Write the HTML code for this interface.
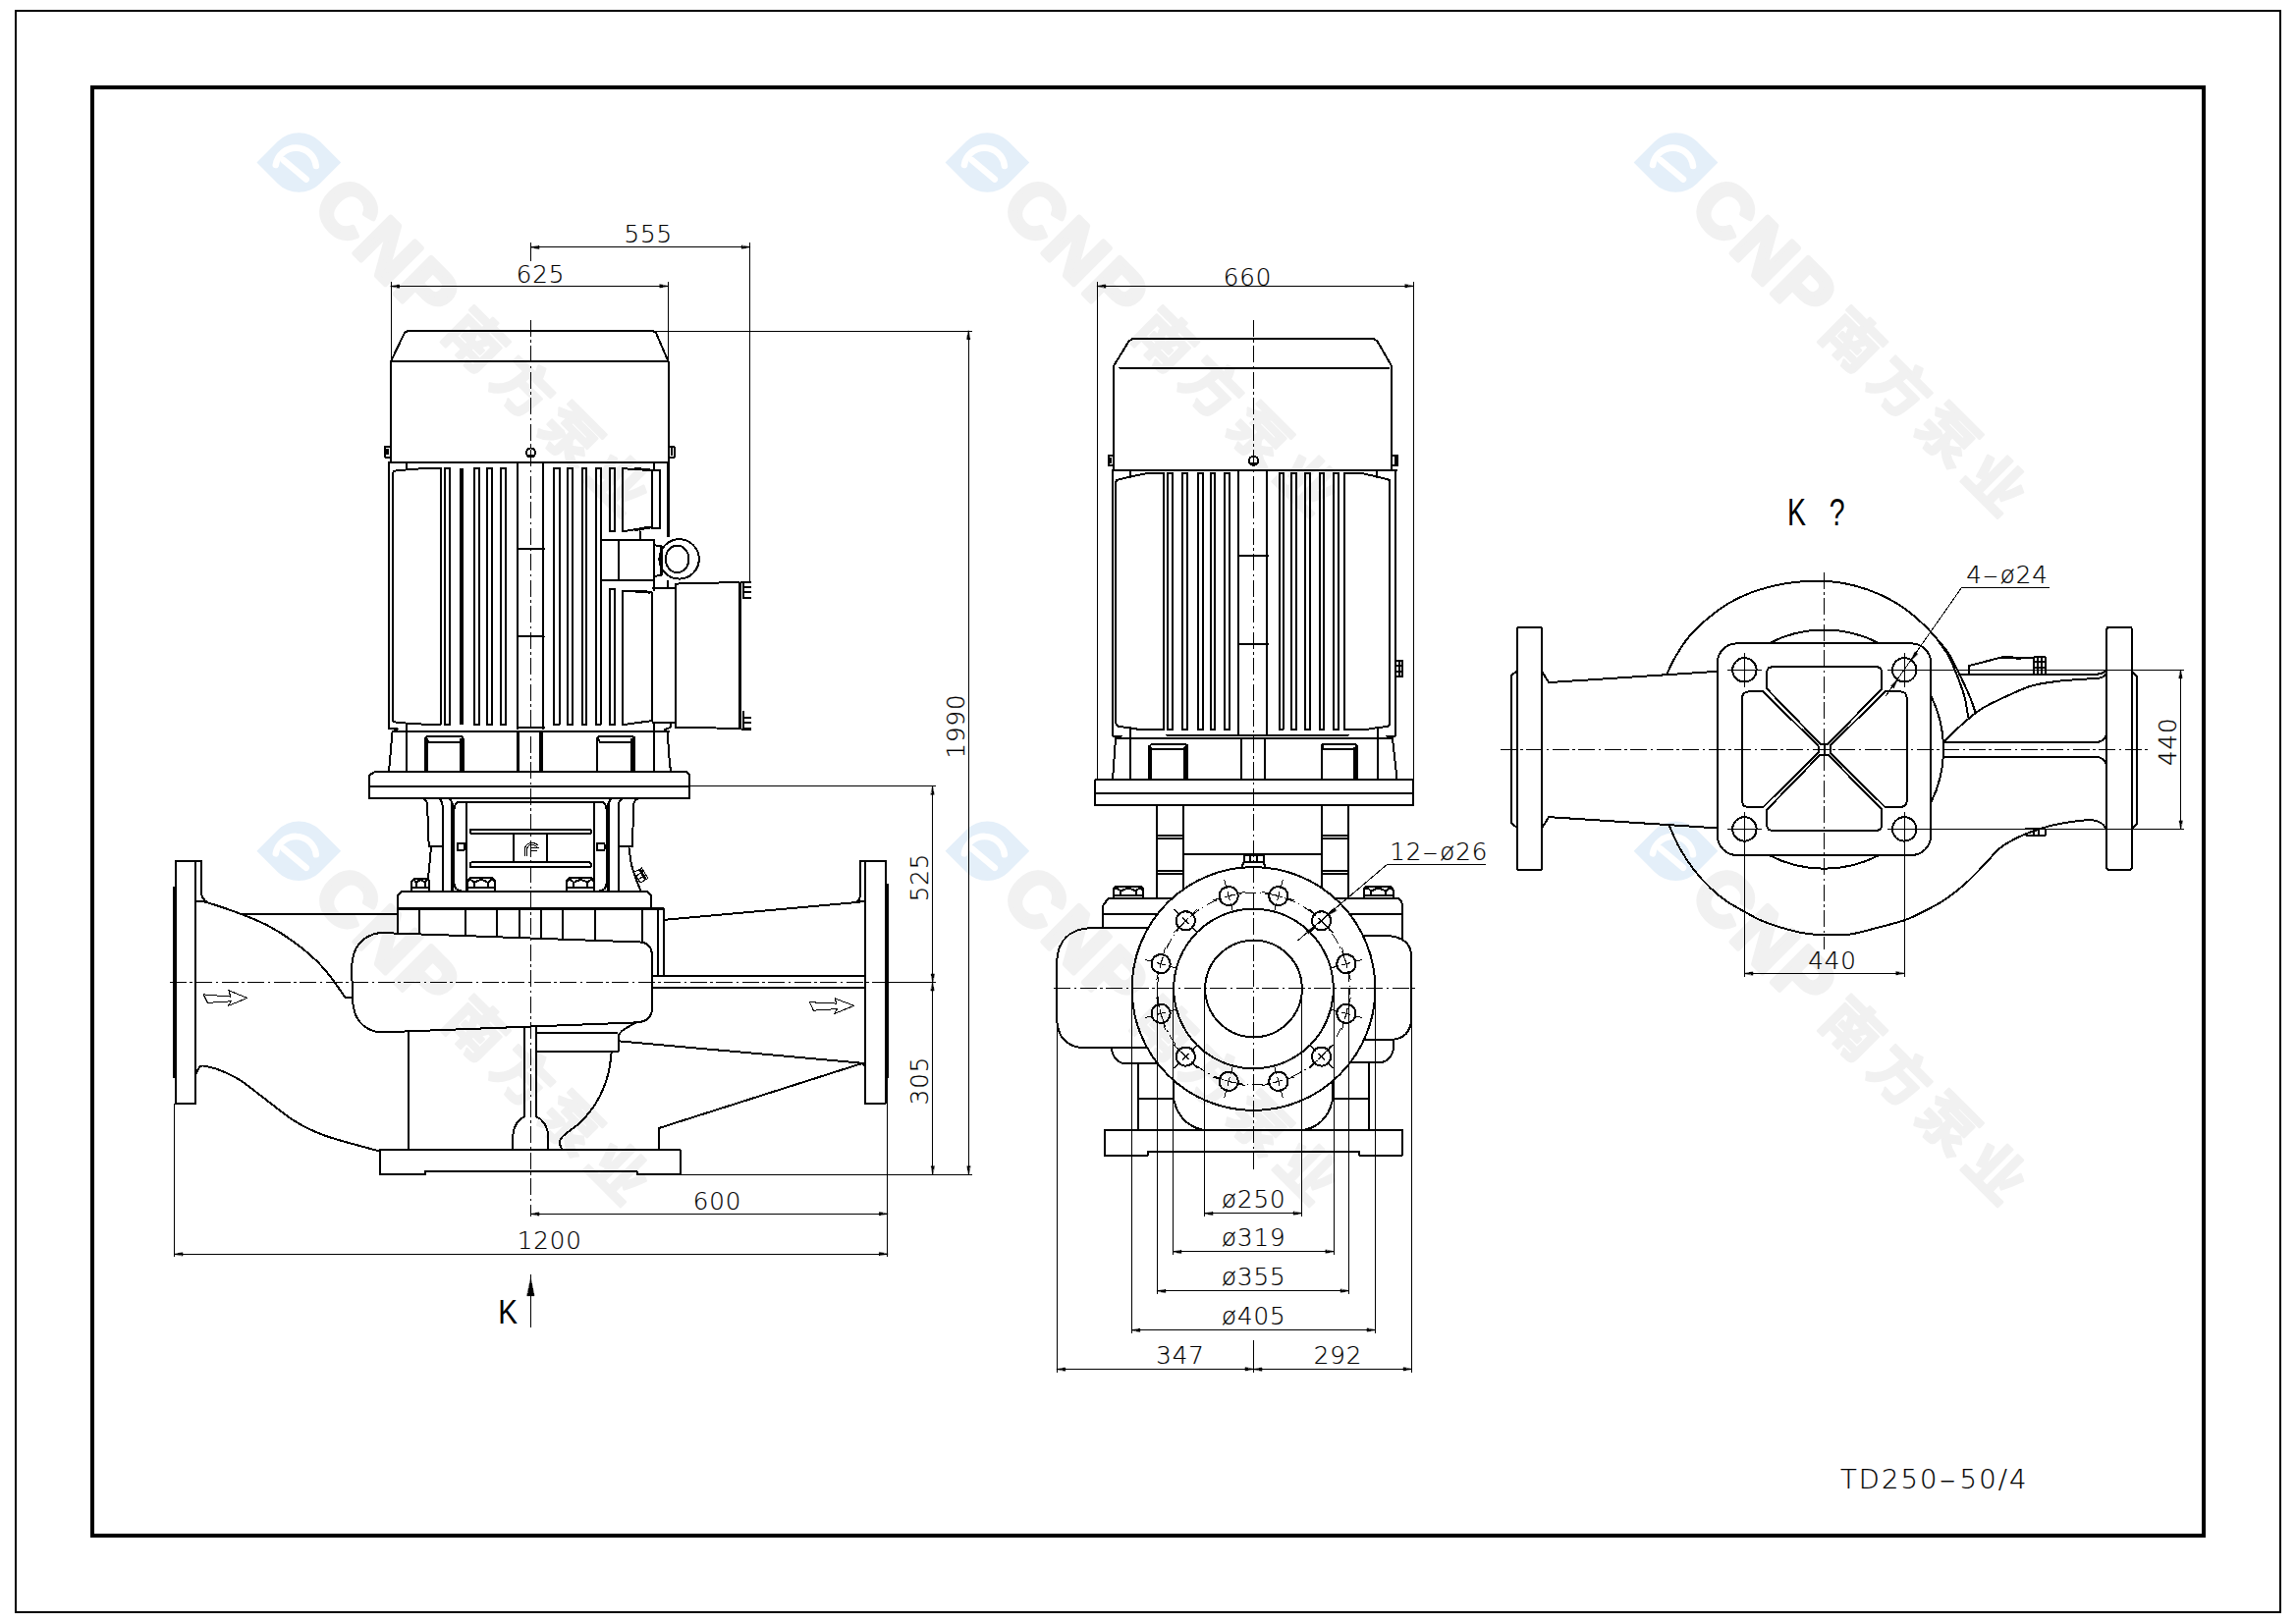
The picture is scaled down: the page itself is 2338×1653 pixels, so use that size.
<!DOCTYPE html>
<html lang="zh"><head><meta charset="utf-8"><title>TD250-50/4</title>
<style>
html,body{margin:0;padding:0;background:#fff}
body{width:2338px;height:1653px;overflow:hidden}
svg{display:block}
path,rect,circle,ellipse{shape-rendering:crispEdges;fill:none;stroke:#000;stroke-linecap:round;stroke-linejoin:round}
.o{stroke-width:2}
.k{stroke-width:3.6;stroke-linecap:butt}
.k2{stroke-width:2.9;stroke-linecap:butt}
.t{stroke-width:1}
.c{stroke-width:1;stroke-dasharray:17 3.5 2.5 3.5;stroke-linecap:butt}
.c2{stroke-width:1;stroke-dasharray:11 4 1.5 4;stroke-linecap:butt}
.cm{stroke-dasharray:9 3.5 9 3.5 9;stroke-linecap:butt}
.a{fill:#000;stroke:#000;stroke-width:.6}
.wl{fill:#e4eff9;stroke:none;shape-rendering:auto}
.ww path{shape-rendering:auto;stroke:#fff;stroke-width:6.6;fill:none}
.f1{stroke-width:2;stroke-linejoin:miter}
.f2{stroke-width:4;stroke-linejoin:miter}
text{font-family:"DejaVu Sans Light","DejaVu Sans","Liberation Sans",sans-serif;font-weight:200;fill:#000}
.d{font-size:24.5px;letter-spacing:.9px;stroke:#000;stroke-width:.2px}
.tt{font-size:27.4px;letter-spacing:2.1px;stroke:#000;stroke-width:.2px}
.kk{font-family:"Liberation Sans","DejaVu Sans",sans-serif;font-weight:400;font-size:38px}
.w1{font-family:"Liberation Sans",sans-serif;font-weight:700;font-size:76px;letter-spacing:3.5px;fill:#f1f1f1;stroke:#f1f1f1;stroke-width:5px;stroke-linejoin:round}
.w2{font-family:"Liberation Sans","Noto Sans CJK SC","WenQuanYi Zen Hei",sans-serif;font-weight:700;font-size:59px;letter-spacing:9.6px;fill:#f1f1f1;stroke:#f1f1f1;stroke-width:2.5px;stroke-linejoin:round}
</style></head>
<body>
<svg width="2338" height="1653" viewBox="0 0 2338 1653">
<g transform="translate(304.3 165.5) rotate(45)"><path class="wl" d="M0 -30.3H30.3V0A30.3 30.3 0 0 1 0 30.3H-30.3V0A30.3 30.3 0 0 1 0 -30.3Z"/><g transform="rotate(-45)" class="ww"><path d="M-23.5 2.5A20.7 20.7 0 0 1 17.5 3.5"/><path d="M-15.5 -2.3L7.4 17"/></g><text class="w1" x="42" y="25.5">CNP</text><text class="w2" x="226" y="22">南方泵业</text></g>
<g transform="translate(1005.4 165.5) rotate(45)"><path class="wl" d="M0 -30.3H30.3V0A30.3 30.3 0 0 1 0 30.3H-30.3V0A30.3 30.3 0 0 1 0 -30.3Z"/><g transform="rotate(-45)" class="ww"><path d="M-23.5 2.5A20.7 20.7 0 0 1 17.5 3.5"/><path d="M-15.5 -2.3L7.4 17"/></g><text class="w1" x="42" y="25.5">CNP</text><text class="w2" x="226" y="22">南方泵业</text></g>
<g transform="translate(1706.5 165.5) rotate(45)"><path class="wl" d="M0 -30.3H30.3V0A30.3 30.3 0 0 1 0 30.3H-30.3V0A30.3 30.3 0 0 1 0 -30.3Z"/><g transform="rotate(-45)" class="ww"><path d="M-23.5 2.5A20.7 20.7 0 0 1 17.5 3.5"/><path d="M-15.5 -2.3L7.4 17"/></g><text class="w1" x="42" y="25.5">CNP</text><text class="w2" x="226" y="22">南方泵业</text></g>
<g transform="translate(304.3 866.8) rotate(45)"><path class="wl" d="M0 -30.3H30.3V0A30.3 30.3 0 0 1 0 30.3H-30.3V0A30.3 30.3 0 0 1 0 -30.3Z"/><g transform="rotate(-45)" class="ww"><path d="M-23.5 2.5A20.7 20.7 0 0 1 17.5 3.5"/><path d="M-15.5 -2.3L7.4 17"/></g><text class="w1" x="42" y="25.5">CNP</text><text class="w2" x="226" y="22">南方泵业</text></g>
<g transform="translate(1005.4 866.8) rotate(45)"><path class="wl" d="M0 -30.3H30.3V0A30.3 30.3 0 0 1 0 30.3H-30.3V0A30.3 30.3 0 0 1 0 -30.3Z"/><g transform="rotate(-45)" class="ww"><path d="M-23.5 2.5A20.7 20.7 0 0 1 17.5 3.5"/><path d="M-15.5 -2.3L7.4 17"/></g><text class="w1" x="42" y="25.5">CNP</text><text class="w2" x="226" y="22">南方泵业</text></g>
<g transform="translate(1706.5 866.8) rotate(45)"><path class="wl" d="M0 -30.3H30.3V0A30.3 30.3 0 0 1 0 30.3H-30.3V0A30.3 30.3 0 0 1 0 -30.3Z"/><g transform="rotate(-45)" class="ww"><path d="M-23.5 2.5A20.7 20.7 0 0 1 17.5 3.5"/><path d="M-15.5 -2.3L7.4 17"/></g><text class="w1" x="42" y="25.5">CNP</text><text class="w2" x="226" y="22">南方泵业</text></g>
<rect class="f1" x="16" y="11" width="2306" height="1631"/>
<rect class="f2" x="94" y="89" width="2150" height="1475"/>
<path class="o" d="M398 470.8L398 368L412 339L415 337L665 337L668 339L680.5 368L680.5 470.8"/>
<path class="o" d="M398 367.8L680.5 367.8"/>
<rect class="o" x="392" y="455" width="6" height="10.5"/>
<rect class="o" x="680.5" y="455" width="6" height="10.5"/>
<path class="k" d="M394.3 457L394.3 463"/>
<path class="o" d="M684 457L684 463"/>
<circle class="o" cx="540.5" cy="461" r="4.6"/>
<path class="o" d="M538 463.5L543 463.5"/>
<path class="o" d="M396 470.8L681 470.8"/>
<path class="o" d="M396 470.8L396 742.4"/>
<path class="k2" d="M680.5 470.8L680.5 547"/>
<path class="o" d="M680 592L680 599"/>
<path class="o" d="M396 742.4L404.8 742.4L402.5 743.8L399.6 745"/>
<path class="o" d="M413.8 471V478M448.6 476.5V738.2M448.6 476.5H440L413.8 478.4L403 479.5Q399.6 480 399.6 484V731Q399.6 735 403 735.6L413.8 736.6L440 738.2H448.6M413.8 736.6V785"/>
<path class="o" d="M452.8 738.2V476.6H457.8V738.2Z"/>
<path class="o" d="M483.4 738.2V476.6H488.3V738.2Z"/>
<path class="o" d="M495.6 738.2V476.6H500.7V738.2Z"/>
<path class="o" d="M509.6 738.2V476.6H515V738.2Z"/>
<path class="k" d="M470.1 476.6L470.1 738.2"/>
<path class="o" d="M526.8 470.8L526.8 742"/>
<path class="o" d="M553 470.8L553 742"/>
<path class="o" d="M526.8 559L554 559"/>
<path class="o" d="M526.8 648.4L554 648.4"/>
<path class="o" d="M563.8 738.2V476.6H569.6V738.2Z"/>
<path class="o" d="M577.6 738.2V476.6H583V738.2Z"/>
<path class="o" d="M592.6 738.2V476.6H597V738.2Z"/>
<path class="o" d="M606.6 738.2V476.6H611.6V738.2Z"/>
<path class="o" d="M620.8 541.3V476.6H626V541.3Z"/>
<path class="o" d="M620.8 738.2V599.5H626V738.2Z"/>
<path class="o" d="M633.9 477.2L664.4 479.2L664.4 536.4L633.9 541.3Z"/>
<path class="k2" d="M646 477.4L662 478.6"/>
<path class="k2" d="M646 539.8L662 537"/>
<path class="o" d="M664.4 479.2L671.8 479.2L671.8 538.4L664.4 538.4"/>
<path class="o" d="M665.9 471L665.9 478.5"/>
<path class="o" d="M651.6 541L651.6 549.7"/>
<rect class="o" x="611.7" y="549.7" width="54.2" height="41.4"/>
<path class="o" d="M629.9 549.7L629.9 591.1"/>
<path class="o" d="M665.9 555.1L673.8 556.5L673.8 585.5L665.9 587.2"/>
<path class="k2" d="M673.8 556.5L673.8 585.5"/>
<circle class="o" cx="691.6" cy="569.4" r="20.2"/>
<ellipse class="o" cx="689.6" cy="569.4" rx="11.8" ry="13.8"/>
<path class="o" d="M665.9 591.1L665.9 601"/>
<path class="o" d="M633.9 601.5L664.4 603.5L664.4 734L633.9 738.2Z"/>
<path class="k2" d="M646 602L662 603.2"/>
<path class="o" d="M664.4 599L687.6 599"/>
<path class="o" d="M664.4 736L687.6 736"/>
<path class="o" d="M687.6 594.6L752.6 593L752.6 742L687.6 740.6Z"/>
<path class="k2" d="M753.6 592.5L753.6 742.5"/>
<path class="o" d="M754.6 592.5H764.5M754.6 742.5H764.5M757 593V609H764.5M757 725V742H764.5M757 598H764M757 603H764M757 731H764M757 736H764"/>
<path class="o" d="M399.6 745L681.5 745"/>
<path class="o" d="M526.8 741.2L553.8 741.2"/>
<path class="o" d="M666.1 736.3L666.1 785"/>
<path class="o" d="M682.9 736.3L682.9 740.7L676.8 743.3L676.8 745"/>
<path class="o" d="M399.6 745L396.1 785"/>
<path class="o" d="M680.2 745L680.7 765L682.9 785"/>
<path class="o" d="M433.3 785V751.6L435.3 749.6H469.5L471.5 751.6V785M435.8 755.9H468.3M433.5 751L436.5 755.9M471.3 751L468.3 755.9"/>
<path class="k2" d="M434.5 752L434.5 785"/>
<path class="k" d="M469.9 752L469.9 785"/>
<path class="o" d="M608.4 785V751.6L610.4 749.6H643.8L645.8 751.6V785M610.4 755.9H642.3M608.6 751L611 755.9M645.6 751L642.3 755.9"/>
<path class="k" d="M644.1 752L644.1 785"/>
<path class="k2" d="M527.5 745L527.5 785"/>
<path class="k" d="M551.1 745L551.1 785"/>
<path class="o" d="M376 813V789.5L382 786H699L702 788.5V813Z"/>
<path class="o" d="M376 800.9L702 800.9"/>
<path class="o" d="M430 813Q434.5 814 435.1 820L436.7 862H450.5M439 863L436 894.5"/>
<path class="o" d="M445.5 813Q450 814 450.5 820V907.3"/>
<path class="o" d="M456.5 813Q460 814 460.4 820"/>
<path class="k2" d="M460.4 818L460.4 907.3"/>
<path class="o" d="M474.5 817L474.5 907.3"/>
<path class="o" d="M651 813Q646 814 645.1 820L644 862H629.9M640.5 864L642.5 878L644.1 885.1L648 896L652.1 906.7"/>
<path class="o" d="M635.5 813Q630.5 814 629.9 820V907.3"/>
<path class="o" d="M624.5 813Q620 814 619.6 820"/>
<path class="k2" d="M619.6 818L619.6 907.3"/>
<path class="o" d="M604.7 817L604.7 907.3"/>
<path class="o" d="M469.5 816.6H610.5Q617.6 816.6 617.6 824.6V899Q617.6 907 610.5 907M469.5 907Q462.4 907 462.4 899V824.6Q462.4 816.6 469.5 816.6"/>
<path class="o" d="M478.5 845.5L480 844.6H600.2L601.7 845.5V848.3L600.2 849.2H480L478.5 848.3Z"/>
<path class="o" d="M478.5 879.3L480 878.4H600.2L601.7 879.3V882.4L600.2 883.3H480L478.5 882.4Z"/>
<path class="o" d="M522.8 849.2L522.8 878.4"/>
<path class="o" d="M556.7 849.2L556.7 878.4"/>
<rect class="o" x="465.6" y="858.6" width="7.3" height="7.3" rx="1"/>
<rect class="o" x="607.6" y="858.6" width="7.9" height="7.3" rx="1"/>
<path class="t" d="M534.5 871.5V866Q534.5 858.6 541.5 858.6Q546 858.6 548 861M536.5 871.5V866.5Q536.5 860.6 541.5 860.6Q545 860.6 546.5 862.3M540.3 873V863.5H548.3M540.3 866.6H546.5"/>
<path class="o" d="M419.4 907.3V897.1L421.9 894.6H434.9L437.4 897.1V907.3"/>
<path class="o" d="M419.4 904L437.4 904"/>
<path class="o" d="M423.9 899.1V904M432.9 899.1V904"/>
<path class="o" d="M419.4 898.1Q421.6 894.1 423.9 899.1Q428.4 893.6 432.9 899.1Q435.1 894.1 437.4 898.1"/>
<path class="o" d="M475.9 907.3V896.9L478.4 894.4H501.4L503.9 896.9V907.3"/>
<path class="o" d="M475.9 904L503.9 904"/>
<path class="o" d="M482.9 898.9V904M496.9 898.9V904"/>
<path class="o" d="M475.9 897.9Q479.4 893.9 482.9 898.9Q489.9 893.4 496.9 898.9Q500.4 893.9 503.9 897.9"/>
<path class="o" d="M577.3 907.3V896.9L579.8 894.4H602.8L605.3 896.9V907.3"/>
<path class="o" d="M577.3 904L605.3 904"/>
<path class="o" d="M584.3 898.9V904M598.3 898.9V904"/>
<path class="o" d="M577.3 897.9Q580.8 893.9 584.3 898.9Q591.3 893.4 598.3 898.9Q601.8 893.9 605.3 897.9"/>
<path class="t" d="M645.5 888.5L653.5 884L660 894.5L652 899ZM647.8 892L655.5 887.5M650 895.5L657.5 891"/>
<path class="k2" d="M651.5 885.5L657.5 896"/>
<path class="o" d="M404.8 924.1V912.3L408.8 908.3H659.6L663.2 911.9V924.1"/>
<path class="k" d="M404.5 925.3L675.7 925.3"/>
<path class="o" d="M404.5 926L404.5 950.4"/>
<path class="o" d="M427.2 926L427.2 951.2"/>
<path class="o" d="M474.1 926L474.1 953"/>
<path class="o" d="M506 926L506 954.1"/>
<path class="o" d="M528.7 926L528.7 955"/>
<path class="o" d="M551 926L551 955.8"/>
<path class="o" d="M573.1 926L573.1 956.6"/>
<path class="o" d="M605.6 926L605.6 957.8"/>
<path class="o" d="M654 926L654 959.6"/>
<path class="o" d="M669.7 926V993.7M675.7 926V993.7"/>
<path class="o" d="M386.6 950L652 959.5Q663.8 960.5 663.8 973V1027.5Q663.8 1040.6 647.5 1041.4L386.4 1051.5C368 1048.5 359.6 1036 359 1017.5L358.2 986C358.2 966 368 953 386.6 950Z"/>
<path class="o" d="M675.7 936.9L870.7 919.2Q876.2 917.5 876.2 909V876.8"/>
<path class="o" d="M870.7 919.2L881 917.7"/>
<path class="o" d="M663.8 994.1L881 994.1"/>
<path class="o" d="M663.8 1006.3L881 1006.3"/>
<path class="o" d="M630.7 1060.4L878.6 1082.8"/>
<path class="o" d="M671 1170.9L671 1149L878.6 1082.8"/>
<path class="k2" d="M878.6 1082.8L881 1086"/>
<rect class="o" x="881" y="876.8" width="20.9" height="246.9"/>
<path class="o" d="M876.2 876.8L881 876.8"/>
<path class="k" d="M903.2 900.4L903.2 1097.6"/>
<rect class="o" x="179.2" y="877" width="20.1" height="247"/>
<path class="k" d="M177.7 903L177.7 1098"/>
<path class="o" d="M199.3 877H204.8V908Q205 916 212 919.5"/>
<path class="o" d="M199.3 917.5C201.4 917.8 204.4 917.3 212 919.5C219.6 921.7 234.6 926.9 244.7 930.7C254.8 934.5 263.4 937.9 272.3 942.5C281.2 947.1 289.7 952.4 297.9 958.3C306.1 964.2 315 971.8 321.6 978C328.2 984.2 332.4 989.5 337.3 995.8C342.2 1002 348.8 1012.2 351.1 1015.5"/>
<path class="o" d="M351.1 1015.5L358.8 1015.5"/>
<path class="o" d="M244.7 930.7L404.4 930.7"/>
<path class="o" d="M199.3 1094.4C200.1 1093 202.1 1087.3 204.2 1086C206.3 1084.7 208.5 1085.8 212 1086.5C215.5 1087.2 219.6 1088.1 225 1090.4C230.4 1092.7 237.5 1095.7 244.7 1100.3C251.9 1104.9 259.1 1111.1 268.3 1118C277.5 1124.9 289.4 1135.2 299.9 1141.7C310.4 1148.2 316.9 1151.7 331.4 1156.8C345.8 1161.9 377.4 1169.9 386.6 1172.5"/>
<path class="t" d="M207.2 1012.9L234.8 1015.1L232.8 1008.6L251.6 1016.5L232.4 1024.4L235.2 1019.8L211.5 1021.4Z"/>
<path class="t" d="M824.4 1020.7L852 1022.1L850 1016.8L869.7 1024.3L849.6 1032.5L852.6 1027.6L828.3 1029.2Z"/>
<path class="o" d="M415.8 1050.6L415.8 1170.9"/>
<path class="o" d="M534.1 1046.3V1137Q524 1142 522.3 1156V1170.9M545.9 1046V1137Q556.5 1142 558.4 1156V1170.9"/>
<path class="o" d="M545.9 1052.2H628M545.9 1070.9H629.7V1056.5Q630 1052 636 1048L647.5 1041.4"/>
<path class="o" d="M622.8 1071C622.5 1073.3 621.8 1080.3 621 1085C620.2 1089.7 619.6 1093.7 617.9 1098.9C616.2 1104.1 613.6 1110.8 611 1116C608.4 1121.2 605.6 1125.7 602.1 1130.4C598.6 1135.1 594.6 1139.7 590 1144C585.4 1148.3 577.9 1152.9 574.5 1156.1C571.1 1159.3 569.9 1160.5 569.6 1163C569.3 1165.5 572.1 1169.6 572.6 1170.9"/>
<path class="o" d="M386.8 1170.9L692.5 1170.9L692.5 1196.1L648.5 1196.1L648.5 1193L433 1193L433 1196.1L386.8 1196.1Z"/>
<path class="c" d="M540.5 325.6L540.5 1239"/>
<path class="c" d="M172.7 1000.5L905 1000.5"/>
<path class="t" d="M540.5 251.8L763.7 251.8"/>
<path class="a" d="M540.5 251.8L549 250.3L549 253.3Z"/>
<path class="a" d="M763.7 251.8L755.2 253.3L755.2 250.3Z"/>
<path class="t" d="M540.5 247L540.5 266"/>
<path class="t" d="M763.7 247L763.7 592"/>
<path class="t" d="M398 291.5L680.2 291.5"/>
<path class="a" d="M398 291.5L406.5 290L406.5 293Z"/>
<path class="a" d="M680.2 291.5L671.7 293L671.7 290Z"/>
<path class="t" d="M398 287L398 366"/>
<path class="t" d="M680.2 287L680.2 366"/>
<path class="t" d="M986.3 337L986.3 1196.1"/>
<path class="a" d="M986.3 337L987.8 345.5L984.8 345.5Z"/>
<path class="a" d="M986.3 1196.1L984.8 1187.6L987.8 1187.6Z"/>
<path class="t" d="M667 337L989.5 337"/>
<path class="t" d="M692.5 1196.1L989.5 1196.1"/>
<path class="t" d="M949.7 800.9L949.7 1000.5"/>
<path class="a" d="M949.7 800.9L951.2 809.4L948.2 809.4Z"/>
<path class="a" d="M949.7 1000.5L948.2 992L951.2 992Z"/>
<path class="t" d="M949.7 1000.5L949.7 1196.1"/>
<path class="a" d="M949.7 1000.5L951.2 1009L948.2 1009Z"/>
<path class="a" d="M949.7 1196.1L948.2 1187.6L951.2 1187.6Z"/>
<path class="t" d="M702 800.9L953 800.9"/>
<path class="t" d="M904.5 1000.5L953 1000.5"/>
<path class="t" d="M540.5 1236.3L903.9 1236.3"/>
<path class="a" d="M540.5 1236.3L549 1234.8L549 1237.8Z"/>
<path class="a" d="M903.9 1236.3L895.4 1237.8L895.4 1234.8Z"/>
<path class="t" d="M903.9 1098L903.9 1280"/>
<path class="t" d="M177.5 1277.2L903.9 1277.2"/>
<path class="a" d="M177.5 1277.2L186 1275.7L186 1278.7Z"/>
<path class="a" d="M903.9 1277.2L895.4 1278.7L895.4 1275.7Z"/>
<path class="t" d="M177.5 1124L177.5 1280"/>
<text class="d" x="660.2" y="247.3" text-anchor="middle">555</text>
<text class="d" x="550.5" y="287.5" text-anchor="middle">625</text>
<text class="d" x="981.8" y="739.4" text-anchor="middle" transform="rotate(-90 981.8 739.4)">1990</text>
<text class="d" x="944.7" y="893.5" text-anchor="middle" transform="rotate(-90 944.7 893.5)">525</text>
<text class="d" x="944.7" y="1100.6" text-anchor="middle" transform="rotate(-90 944.7 1100.6)">305</text>
<text class="d" x="730.6" y="1232" text-anchor="middle">600</text>
<text class="d" x="559.7" y="1272.4" text-anchor="middle">1200</text>
<path class="t" d="M540.5 1298.7L540.5 1352"/>
<path class="a" d="M540.5 1302.5L544 1319.7H537Z"/>
<text class="kk" transform="translate(507.3 1348) scale(.86 1)" style="font-size:34.5px">K</text>
<path class="o" d="M1133.8 478.7L1133.8 373.2L1149.5 347.5L1153 345L1399 345L1402.5 347.5L1417.3 373.2L1417.3 478.7"/>
<path class="o" d="M1140.4 374.8L1414.1 374.8"/>
<rect class="o" x="1129.2" y="464" width="4.6" height="9.8"/>
<rect class="o" x="1417.3" y="463.5" width="6.1" height="10.3"/>
<path class="k2" d="M1131 466L1131 472"/>
<path class="o" d="M1420.7 466L1420.7 472"/>
<circle class="o" cx="1276.5" cy="469.3" r="4.6"/>
<path class="o" d="M1274 472L1279 472"/>
<path class="o" d="M1132.7 478.7L1422.2 478.7"/>
<path class="o" d="M1132.7 478.7L1132.7 749.5"/>
<path class="o" d="M1421.2 478.7L1421.2 749.5"/>
<path class="o" d="M1150.9 478.7L1150.9 486"/>
<path class="o" d="M1402.3 478.7L1402.3 486"/>
<path class="o" d="M1185.4 481.7V743.1M1185.4 481.7H1170L1151 485.5L1137.5 488.8L1136.3 490.5V736Q1136.3 739.5 1140 740L1148 741L1155.5 742L1160 743.1H1185.4"/>
<path class="o" d="M1368.8 481.7V743.1M1368.8 481.7H1385L1402.3 485.5L1415.3 489V736Q1415.6 739.5 1412 740L1403.7 741L1396.3 742L1392 743.1H1368.8"/>
<path class="o" d="M1189.3 743.1V481.7H1193.8V743.1Z"/>
<path class="o" d="M1203.7 743.1V481.7H1209V743.1Z"/>
<path class="o" d="M1219.9 743.1V481.7H1224.8V743.1Z"/>
<path class="o" d="M1232.7 743.1V481.7H1237.2V743.1Z"/>
<path class="o" d="M1246.9 743.1V481.7H1251.8V743.1Z"/>
<path class="o" d="M1302.7 743.1V481.7H1306.6V743.1Z"/>
<path class="o" d="M1314.9 743.1V481.7H1320V743.1Z"/>
<path class="o" d="M1328.7 743.1V481.7H1333.9V743.1Z"/>
<path class="o" d="M1343.7 743.1V481.7H1348V743.1Z"/>
<path class="o" d="M1358.3 743.1V481.7H1363.2V743.1Z"/>
<path class="o" d="M1260.9 478.7L1260.9 749"/>
<path class="o" d="M1289.9 478.7L1289.9 749"/>
<path class="o" d="M1260.9 565.6L1291.5 565.6"/>
<path class="o" d="M1260.9 656L1291.5 656"/>
<path class="o" d="M1422 673.1H1428V688.9H1422M1422 678H1428M1422 683.5H1428M1425 673.1V688.9"/>
<path class="o" d="M1132.7 749.5L1142 749.5"/>
<path class="o" d="M1412 749.5L1421.2 749.5"/>
<path class="o" d="M1188 748.6L1372.7 748.6"/>
<path class="o" d="M1136 752L1418 752"/>
<path class="o" d="M1150.9 741.5L1150.9 793.4"/>
<path class="o" d="M1403.3 741.5L1403.3 793.4"/>
<path class="o" d="M1136 752L1133.1 793.4"/>
<path class="o" d="M1418 752L1422.6 793.4"/>
<path class="o" d="M1169.6 793.4V760.9L1172.6 757.9H1207.4L1208.9 759.4V793.4M1172 762.8H1205.7M1169.9 759.5L1172.6 762.8M1208.7 759L1205.7 762.8"/>
<path class="k" d="M1171.1 761L1171.1 793.4"/>
<path class="k" d="M1207.1 761L1207.1 793.4"/>
<path class="o" d="M1346 793.4V759.4L1347.5 757.9H1380.3L1382 759.6V793.4M1347 762.8H1379M1346.2 759L1348 762.8M1381.8 759.4L1379 762.8"/>
<path class="k" d="M1380.1 761L1380.1 793.4"/>
<path class="o" d="M1264.2 752L1264.2 793.4"/>
<path class="o" d="M1287.9 752L1287.9 793.4"/>
<rect class="o" x="1115.3" y="794.4" width="323.9" height="25.6"/>
<path class="o" d="M1115.3 807.6L1439.2 807.6"/>
<path class="o" d="M1177.6 820L1177.6 914"/>
<path class="o" d="M1205.1 820L1205.1 905.7"/>
<path class="o" d="M1177.6 851.3L1205.1 851.3"/>
<path class="o" d="M1177.6 854.2L1205.1 854.2"/>
<path class="o" d="M1177.6 886.8L1205.1 886.8"/>
<path class="o" d="M1177.6 889.5L1205.1 889.5"/>
<path class="o" d="M1345.8 820L1345.8 904.3"/>
<path class="o" d="M1373.3 820L1373.3 914"/>
<path class="o" d="M1345.8 851.3L1373.3 851.3"/>
<path class="o" d="M1345.8 854.2L1373.3 854.2"/>
<path class="o" d="M1345.8 886.8L1373.3 886.8"/>
<path class="o" d="M1345.8 889.5L1373.3 889.5"/>
<path class="o" d="M1205.1 869.9L1345.8 869.9"/>
<path class="o" d="M1264.5 882.8L1266.5 878V871H1286.5V878L1288.5 882.8M1266.5 878H1286.5M1273 871V878M1280 871V878"/>
<path class="o" d="M1133.5 913.9V905.7L1136 903.2H1161.8L1164.3 905.7V913.9"/>
<path class="o" d="M1133.5 911.7L1164.3 911.7"/>
<path class="o" d="M1141.2 907.7V911.7M1156.6 907.7V911.7"/>
<path class="o" d="M1133.5 906.7Q1137.3 902.7 1141.2 907.7Q1148.9 902.2 1156.6 907.7Q1160.4 902.7 1164.3 906.7"/>
<path class="o" d="M1388.7 913.9V905.7L1391.2 903.2H1416L1418.5 905.7V913.9"/>
<path class="o" d="M1388.7 911.7L1418.5 911.7"/>
<path class="o" d="M1396.2 907.7V911.7M1411 907.7V911.7"/>
<path class="o" d="M1388.7 906.7Q1392.4 902.7 1396.2 907.7Q1403.6 902.2 1411 907.7Q1414.8 902.7 1418.5 906.7"/>
<path class="o" d="M1193.7 914.8H1128.6L1122.6 923.4V945.2"/>
<path class="o" d="M1122.6 931L1178.6 931"/>
<path class="o" d="M1359.3 914.8H1424Q1427.5 917 1428.3 924V957.5"/>
<path class="o" d="M1374.4 931L1428.3 931"/>
<path class="o" d="M1169.1 945.2H1109C1090 946.5 1077.5 957 1076.3 978V1040Q1078 1063.5 1100 1067H1168.2"/>
<path class="o" d="M1388 952.9H1410Q1437.3 953.5 1437.3 975V1037Q1436.5 1057.5 1417 1059H1388.8"/>
<path class="o" d="M1131.5 1067.2Q1133.5 1080 1142.5 1082.6H1178.3"/>
<path class="o" d="M1419.4 1059.3V1066Q1418 1079 1408 1081.8H1375.3"/>
<path class="o" d="M1159 1082.6L1159 1150.6"/>
<path class="o" d="M1393.6 1082.6L1393.6 1150.6"/>
<path class="o" d="M1159 1119L1194.6 1119"/>
<path class="o" d="M1358.1 1119L1393.6 1119"/>
<path class="o" d="M1194.6 1100V1114C1196 1134 1208 1147 1224 1150.6M1357.5 1100V1114C1356.5 1134 1345 1147 1329 1150.6"/>
<path class="k2" d="M1195 1101L1195 1115"/>
<path class="k2" d="M1357.2 1101L1357.2 1115"/>
<circle class="o" cx="1276.5" cy="1007" r="123.9"/>
<circle class="o" cx="1276.5" cy="1007" r="81.3"/>
<circle class="o" cx="1276.5" cy="1007" r="49.3"/>
<circle class="c2" cx="1276.5" cy="1007" r="97.7"/>
<circle class="o" cx="1370.9" cy="981.7" r="9.6"/>
<path class="t cm" d="M1354.5 986.1L1387.3 977.3"/>
<path class="t cm" d="M1366.5 965.3L1375.3 998.1"/>
<circle class="o" cx="1345.6" cy="937.9" r="9.6"/>
<path class="t cm" d="M1333.6 949.9L1357.6 925.9"/>
<path class="t cm" d="M1333.6 925.9L1357.6 949.9"/>
<circle class="o" cx="1301.8" cy="912.6" r="9.6"/>
<path class="t cm" d="M1297.4 929L1306.2 896.2"/>
<path class="t cm" d="M1285.4 908.2L1318.2 917"/>
<circle class="o" cx="1251.2" cy="912.6" r="9.6"/>
<path class="t cm" d="M1255.6 929L1246.8 896.2"/>
<path class="t cm" d="M1234.8 917L1267.6 908.2"/>
<circle class="o" cx="1207.4" cy="937.9" r="9.6"/>
<path class="t cm" d="M1219.4 949.9L1195.4 925.9"/>
<path class="t cm" d="M1195.4 949.9L1219.4 925.9"/>
<circle class="o" cx="1182.1" cy="981.7" r="9.6"/>
<path class="t cm" d="M1198.5 986.1L1165.7 977.3"/>
<path class="t cm" d="M1177.7 998.1L1186.5 965.3"/>
<circle class="o" cx="1182.1" cy="1032.3" r="9.6"/>
<path class="t cm" d="M1198.5 1027.9L1165.7 1036.7"/>
<path class="t cm" d="M1186.5 1048.7L1177.7 1015.9"/>
<circle class="o" cx="1207.4" cy="1076.1" r="9.6"/>
<path class="t cm" d="M1219.4 1064.1L1195.4 1088.1"/>
<path class="t cm" d="M1219.4 1088.1L1195.4 1064.1"/>
<circle class="o" cx="1251.2" cy="1101.4" r="9.6"/>
<path class="t cm" d="M1255.6 1085L1246.8 1117.8"/>
<path class="t cm" d="M1267.6 1105.8L1234.8 1097"/>
<circle class="o" cx="1301.8" cy="1101.4" r="9.6"/>
<path class="t cm" d="M1297.4 1085L1306.2 1117.8"/>
<path class="t cm" d="M1318.2 1097L1285.4 1105.8"/>
<circle class="o" cx="1345.6" cy="1076.1" r="9.6"/>
<path class="t cm" d="M1333.6 1064.1L1357.6 1088.1"/>
<path class="t cm" d="M1357.6 1064.1L1333.6 1088.1"/>
<circle class="o" cx="1370.9" cy="1032.3" r="9.6"/>
<path class="t cm" d="M1354.5 1027.9L1387.3 1036.7"/>
<path class="t cm" d="M1375.3 1015.9L1366.5 1048.7"/>
<path class="o" d="M1124.7 1150.6L1427.8 1150.6L1427.8 1176.6L1384.4 1176.6L1384.4 1172.8L1168.5 1172.8L1168.5 1176.6L1124.7 1176.6Z"/>
<path class="c" d="M1276.5 325.9L1276.5 1194"/>
<path class="t" d="M1276.5 1365.5L1276.5 1397.5"/>
<path class="c" d="M1073 1006.4L1441 1006.4"/>
<path class="t" d="M1117.3 291.4L1439.2 291.4"/>
<path class="a" d="M1117.3 291.4L1125.8 289.9L1125.8 292.9Z"/>
<path class="a" d="M1439.2 291.4L1430.7 292.9L1430.7 289.9Z"/>
<path class="t" d="M1117.3 287.5L1117.3 794"/>
<path class="t" d="M1439.2 287.5L1439.2 794"/>
<text class="d" x="1270.6" y="291" text-anchor="middle">660</text>
<path class="t" d="M1226.5 1235.8L1325.6 1235.8"/>
<path class="a" d="M1226.5 1235.8L1235 1234.3L1235 1237.3Z"/>
<path class="a" d="M1325.6 1235.8L1317.1 1237.3L1317.1 1234.3Z"/>
<path class="t" d="M1226.5 1006.4L1226.5 1238.8"/>
<path class="t" d="M1325.6 1006.4L1325.6 1238.8"/>
<text class="d" x="1276.8" y="1230.4" text-anchor="middle">ø250</text>
<path class="t" d="M1194.4 1274.8L1358.3 1274.8"/>
<path class="a" d="M1194.4 1274.8L1202.9 1273.3L1202.9 1276.3Z"/>
<path class="a" d="M1358.3 1274.8L1349.8 1276.3L1349.8 1273.3Z"/>
<path class="t" d="M1194.4 1006.4L1194.4 1277.8"/>
<path class="t" d="M1358.3 1006.4L1358.3 1277.8"/>
<text class="d" x="1276.8" y="1269.4" text-anchor="middle">ø319</text>
<path class="t" d="M1178.3 1314.8L1373.6 1314.8"/>
<path class="a" d="M1178.3 1314.8L1186.8 1313.3L1186.8 1316.3Z"/>
<path class="a" d="M1373.6 1314.8L1365.1 1316.3L1365.1 1313.3Z"/>
<path class="t" d="M1178.3 1006.4L1178.3 1317.8"/>
<path class="t" d="M1373.6 1006.4L1373.6 1317.8"/>
<text class="d" x="1276.8" y="1309.4" text-anchor="middle">ø355</text>
<path class="t" d="M1152.3 1354.7L1400.5 1354.7"/>
<path class="a" d="M1152.3 1354.7L1160.8 1353.2L1160.8 1356.2Z"/>
<path class="a" d="M1400.5 1354.7L1392 1356.2L1392 1353.2Z"/>
<path class="t" d="M1152.3 1006.4L1152.3 1357.7"/>
<path class="t" d="M1400.5 1006.4L1400.5 1357.7"/>
<text class="d" x="1276.8" y="1349.3" text-anchor="middle">ø405</text>
<path class="t" d="M1076.2 1394.5L1276.5 1394.5"/>
<path class="a" d="M1076.2 1394.5L1084.7 1393L1084.7 1396Z"/>
<path class="a" d="M1276.5 1394.5L1268 1396L1268 1393Z"/>
<path class="t" d="M1276.5 1394.5L1437.6 1394.5"/>
<path class="a" d="M1276.5 1394.5L1285 1393L1285 1396Z"/>
<path class="a" d="M1437.6 1394.5L1429.1 1396L1429.1 1393Z"/>
<path class="t" d="M1076.2 1006.4L1076.2 1397.5"/>
<path class="t" d="M1437.6 1006.4L1437.6 1397.5"/>
<text class="d" x="1202" y="1389.2" text-anchor="middle">347</text>
<text class="d" x="1362.5" y="1389.2" text-anchor="middle">292</text>
<path class="t" d="M1513.2 880L1412.9 880L1321.6 957.8"/>
<text class="d" x="1465.3" y="875.5" text-anchor="middle">12<tspan class="hy" textLength="18" lengthAdjust="spacingAndGlyphs">-</tspan>ø26</text>
<path class="a" d="M1352.9 931.7L1358.6 924.5L1360.9 927.2Z"/>
<path class="a" d="M1338.3 944.1L1332.6 951.3L1330.3 948.6Z"/>
<rect class="o" x="1544.7" y="638.9" width="25.6" height="247.2" rx="3"/>
<path class="o" d="M1544.7 683.2L1538.7 688.4L1538.7 838L1544.7 843"/>
<path class="o" d="M1570.3 684.2L1577.2 695.1L1748.8 683.8"/>
<path class="o" d="M1570.3 843L1577.2 832.1L1748.8 843.4"/>
<rect class="o" x="2145.3" y="638.5" width="25.6" height="247.6" rx="3"/>
<path class="o" d="M2170.9 684.2L2176.2 689.5L2176.2 838.5L2170.9 844"/>
<rect class="o" x="1748.8" y="655.3" width="217.4" height="215.7" rx="20"/>
<circle class="o" cx="1776.4" cy="682.3" r="12.2"/>
<path class="t" d="M1759.4 682.3L1793.4 682.3"/>
<path class="t" d="M1776.4 665.3L1776.4 699.3"/>
<circle class="o" cx="1776.4" cy="844.4" r="12.2"/>
<path class="t" d="M1759.4 844.4L1793.4 844.4"/>
<path class="t" d="M1776.4 827.4L1776.4 861.4"/>
<circle class="o" cx="1939.2" cy="682.3" r="12.2"/>
<path class="t" d="M1922.2 682.3L1956.2 682.3"/>
<path class="t" d="M1939.2 665.3L1939.2 699.3"/>
<circle class="o" cx="1939.2" cy="844.4" r="12.2"/>
<path class="t" d="M1922.2 844.4L1956.2 844.4"/>
<path class="t" d="M1939.2 827.4L1939.2 861.4"/>
<path class="o" d="M1804.6 679.1L1911.3 679.1L1914.5 680.3L1916.4 683.5L1916.4 701.5L1861.5 757.6L1853.5 757.6L1799.2 701.5L1799.2 683.5L1801 680.3Z"/>
<path class="o" d="M1804.6 846L1911.3 846L1914.5 844.8L1916.4 841.6L1916.4 824.7L1861.5 768.6L1853.5 768.6L1799.2 824.7L1799.2 841.6L1801 844.8Z"/>
<path class="o" d="M1774.1 709.5L1775.5 706L1780.3 704.3L1795.2 704.3L1851.5 759.6L1851.5 766.6L1795.2 822.3L1780.3 822.3L1775.5 820.5L1774.1 817Z"/>
<path class="o" d="M1941.5 709.5L1940 706L1935.6 704.3L1919.8 704.3L1863.5 759.6L1863.5 766.6L1919.8 822.3L1935.6 822.3L1940 820.5L1941.5 817Z"/>
<path class="o" d="M1857.5 758L1857.5 768"/>
<path class="o" d="M1801.2 655.3A121.6 121.6 0 0 1 1913.8 655.3"/>
<path class="o" d="M1913.6 871A121.6 121.6 0 0 1 1801.4 871"/>
<path class="o" d="M1966.2 708.6A121.6 121.6 0 0 1 1966.2 817.6"/>
<path class="o" d="M1697.2 686.6C1698.8 683.5 1702.8 674.3 1706.7 667.8C1710.6 661.3 1715.3 653.8 1720.8 647.4C1726.3 641 1732.8 635 1739.6 629.4C1746.4 623.8 1753.1 618.4 1761.5 613.7C1769.9 609 1779.9 604.5 1789.8 601.2C1799.7 597.9 1809.9 595.4 1821.1 593.8C1832.3 592.2 1846 591.3 1857.2 591.8C1868.4 592.2 1878.8 594.1 1888.5 596.5C1898.2 598.9 1906.8 602.1 1915.2 605.9C1923.6 609.7 1931.1 613.9 1938.7 619.2C1946.3 624.6 1954.7 632.2 1960.7 638C1966.7 643.8 1970.6 648.7 1974.8 653.7C1979 658.7 1981.8 661.3 1985.7 667.8C1989.6 674.3 1994.9 685.8 1998.3 692.9C2001.7 700 2003.9 704.6 2006.1 710.1C2008.3 715.6 2010.7 723.2 2011.6 725.8"/>
<path class="o" d="M1974.8 653.7C1976.4 656.1 1981.1 661.8 1984.2 667.8C1987.3 673.8 1990.9 682.8 1993.6 689.8C1996.3 696.8 1998.8 703.3 2000.6 710.1C2002.4 716.9 2003.6 727.1 2004.2 730.5"/>
<path class="k2" d="M1975 654L1985 667.5"/>
<path class="o" d="M1699.6 840.5C1701.3 844.3 1705.8 855.6 1710 863.1C1714.2 870.6 1719.4 878.7 1724.8 885.7C1730.2 892.7 1736.5 899.4 1742.3 904.9C1748.1 910.4 1754 915 1759.7 918.9C1765.4 922.8 1770.4 925.2 1776.2 928.4C1782 931.6 1787.1 935 1794.5 938C1801.9 941 1813.4 944.6 1820.7 946.7C1828 948.8 1832 949.7 1838.1 950.6C1844.2 951.5 1849.5 951.9 1857.2 952C1864.9 952.1 1875 952.7 1884 951.5C1893 950.3 1901.7 947.4 1911 945C1920.3 942.6 1931.7 939.9 1939.7 937.1C1947.7 934.3 1952.1 931.9 1958.9 928.4C1965.7 924.9 1973.6 921 1980.7 916.2C1987.8 911.4 1995.1 905.5 2001.6 899.7C2008.1 893.9 2014.2 887.2 2019.9 881.4C2025.6 875.6 2030.5 869.1 2035.5 864.8C2040.5 860.4 2044.6 858.2 2050 855.3C2055.4 852.4 2061.2 849.9 2067.9 847.4C2074.6 844.9 2082 842.4 2090 840.5C2098 838.6 2109 836.9 2116 836.1C2123 835.3 2128 835.1 2132 835.5C2136 835.9 2137.8 837 2140 838.5C2142.2 840 2144.3 843.2 2145.2 844.2"/>
<path class="o" d="M1979 755.6C1982.5 752.4 1993.1 741.9 1999.7 736.2C2006.3 730.5 2011.2 726 2018.5 721.5C2025.8 717 2035.2 712.8 2043.6 709C2052 705.2 2060 701 2068.7 698.5C2077.4 696 2087 694.9 2095.9 693.8C2104.8 692.7 2115 692.2 2122 691.7C2129 691.2 2134.2 691.2 2137.7 690.6C2141.2 690 2141.6 689.3 2142.9 688.4C2144.2 687.5 2144.9 685.6 2145.3 685"/>
<path class="o" d="M1994.5 686.6H2136Q2142 686 2145.3 682.5"/>
<path class="o" d="M1979 756.2H2135Q2143 755 2145.3 748M1979 770.6H2135Q2143 772 2145.3 779"/>
<path class="o" d="M2005.3 686.6V678L2038 669.5H2071V686.6M2071 669.4H2082.6V686.6M2074.5 669.4V686.6M2078.5 669.4V686.6M2071 674H2082.6M2071 680H2082.6"/>
<path class="k2" d="M2038 669.6L2058 670.2"/>
<path class="o" d="M2062.8 844.4H2082.6V851H2064M2071 844.4V851M2076 844.4V851"/>
<path class="c" d="M1857.5 582.7L1857.5 966.6"/>
<path class="c" d="M1527.9 763.1L2188 763.1"/>
<path class="t" d="M1951.2 682.3L2223.5 682.3"/>
<path class="t" d="M1951.2 844.4L2223.5 844.4"/>
<path class="t" d="M2220.6 682.3L2220.6 844.4"/>
<path class="a" d="M2220.6 682.3L2222.1 690.8L2219.1 690.8Z"/>
<path class="a" d="M2220.6 844.4L2219.1 835.9L2222.1 835.9Z"/>
<text class="d" x="2215.7" y="755.2" text-anchor="middle" transform="rotate(-90 2215.7 755.2)">440</text>
<path class="t" d="M1776.4 856.4L1776.4 994.5"/>
<path class="t" d="M1939.2 856.4L1939.2 994.5"/>
<path class="t" d="M1776.4 991.4L1939.2 991.4"/>
<path class="a" d="M1776.4 991.4L1784.9 989.9L1784.9 992.9Z"/>
<path class="a" d="M1939.2 991.4L1930.7 992.9L1930.7 989.9Z"/>
<text class="d" x="1866" y="986.6" text-anchor="middle">440</text>
<path class="t" d="M2086.1 598.6L1997.4 598.6L1920.3 708.8"/>
<text class="d" x="2044" y="593.9" text-anchor="middle">4<tspan class="hy" textLength="18" lengthAdjust="spacingAndGlyphs">-</tspan>ø24</text>
<path class="a" d="M1946.2 672.3L1949.9 663.9L1952.8 666Z"/>
<path class="a" d="M1932.2 692.3L1928.5 700.7L1925.6 698.6Z"/>
<text class="kk" transform="translate(1820 534.9) scale(.75 1)" word-spacing="21">K ?</text>
<text class="tt" x="1874" y="1516" text-anchor="start">TD250<tspan class="hy" textLength="21" lengthAdjust="spacingAndGlyphs">-</tspan>50/4</text>
</svg>
</body></html>
